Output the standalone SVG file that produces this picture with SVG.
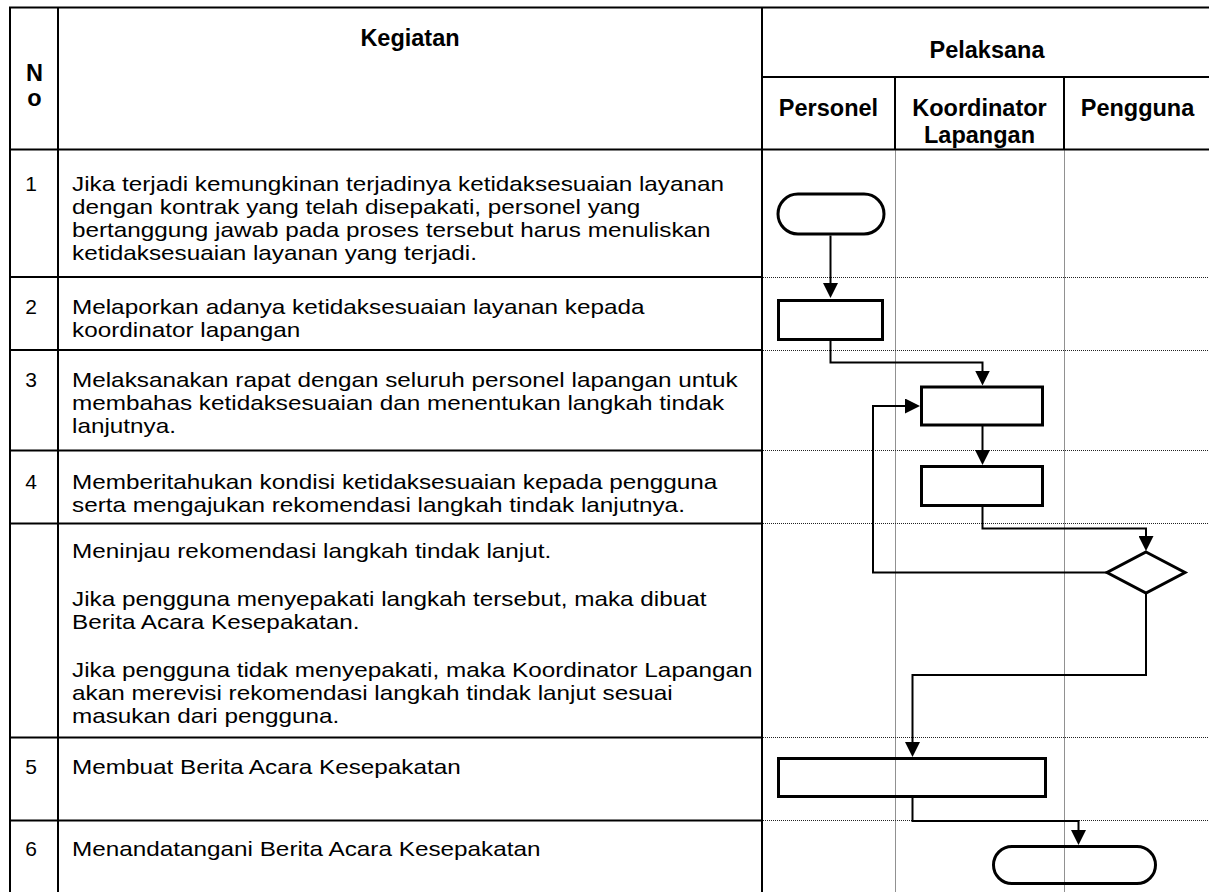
<svg xmlns="http://www.w3.org/2000/svg" width="1209" height="892" viewBox="0 0 1209 892">
<style>
.t{font-family:"Liberation Sans",Arial,sans-serif;font-size:20.5px;fill:#000}
.n{font-family:"Liberation Sans",Arial,sans-serif;font-size:21px;fill:#000;text-anchor:middle}
.h{font-family:"Liberation Sans",Arial,sans-serif;font-size:23.5px;font-weight:bold;fill:#000;text-anchor:middle}
.g{stroke:#000;stroke-width:2;fill:none}
.d{stroke:#222;stroke-width:1;stroke-dasharray:1 1;fill:none}
.s{stroke:#000;stroke-width:3;fill:none}
.c{stroke:#000;stroke-width:2;fill:none;marker-end:url(#ah)}
</style>
<defs>
<marker id="ah" markerUnits="userSpaceOnUse" markerWidth="15" markerHeight="15" viewBox="0 0 15 15" refX="5" refY="7.5" orient="auto">
<path d="M0,0 L15,7.5 L0,15 z" fill="#000"/>
</marker>
</defs>
<rect width="1209" height="892" fill="#fff"/>
<g id="grid">
<path class="g" d="M9,7.5 H1209 M10,6.5 V892 M58,7.5 V892 M762,7.5 V892 M762,77 H1209 M9,149.5 H1209 M895,77 V149.5 M1064,77 V149.5"/>
<path class="g" d="M10,277 H762 M10,350 H762 M10,450.5 H762 M10,523.5 H762 M10,737.5 H762 M10,820.5 H762"/>
<path class="d" d="M763,277.5 H1209 M763,350.5 H1209 M763,450.5 H1209 M763,523.5 H1209 M763,737.5 H1209 M763,820.5 H1209 M895.5,150.5 V892 M1064.5,150.5 V892"/>
</g>
<g id="header">
<text class="h" x="410" y="46">Kegiatan</text>
<text class="h" x="34.5" y="81">N</text>
<text class="h" x="34.5" y="106">o</text>
<text class="h" x="987" y="58">Pelaksana</text>
<text class="h" x="828.5" y="116">Personel</text>
<text class="h" x="979.5" y="116">Koordinator</text>
<text class="h" x="979.5" y="143">Lapangan</text>
<text class="h" x="1137.5" y="116">Pengguna</text>
</g>
<g id="numbers">
<text class="n" x="31" y="191">1</text>
<text class="n" x="31" y="314">2</text>
<text class="n" x="31" y="387">3</text>
<text class="n" x="31" y="489">4</text>
<text class="n" x="31" y="774">5</text>
<text class="n" x="31" y="856">6</text>
</g>
<g id="rows" transform="scale(1.185,1)">
<text class="t" x="60.76" y="191">Jika terjadi kemungkinan terjadinya ketidaksesuaian layanan</text>
<text class="t" x="60.76" y="214">dengan kontrak yang telah disepakati, personel yang</text>
<text class="t" x="60.76" y="237">bertanggung jawab pada proses tersebut harus menuliskan</text>
<text class="t" x="60.76" y="260">ketidaksesuaian layanan yang terjadi.</text>
<text class="t" x="60.76" y="314">Melaporkan adanya ketidaksesuaian layanan kepada</text>
<text class="t" x="60.76" y="337">koordinator lapangan</text>
<text class="t" x="60.76" y="387">Melaksanakan rapat dengan seluruh personel lapangan untuk</text>
<text class="t" x="60.76" y="410">membahas ketidaksesuaian dan menentukan langkah tindak</text>
<text class="t" x="60.76" y="433">lanjutnya.</text>
<text class="t" x="60.76" y="489">Memberitahukan kondisi ketidaksesuaian kepada pengguna</text>
<text class="t" x="60.76" y="512">serta mengajukan rekomendasi langkah tindak lanjutnya.</text>
<text class="t" x="60.76" y="558">Meninjau rekomendasi langkah tindak lanjut.</text>
<text class="t" x="60.76" y="606">Jika pengguna menyepakati langkah tersebut, maka dibuat</text>
<text class="t" x="60.76" y="629">Berita Acara Kesepakatan.</text>
<text class="t" x="60.76" y="677">Jika pengguna tidak menyepakati, maka Koordinator Lapangan</text>
<text class="t" x="60.76" y="700">akan merevisi rekomendasi langkah tindak lanjut sesuai</text>
<text class="t" x="60.76" y="723">masukan dari pengguna.</text>
<text class="t" x="60.76" y="774">Membuat Berita Acara Kesepakatan</text>
<text class="t" x="60.76" y="856">Menandatangani Berita Acara Kesepakatan</text>
</g>
<g id="connectors">
<path class="c" d="M830.5,235.5 V288"/>
<path class="c" d="M830.5,341 V362.5 H982.5 V375.5"/>
<path class="c" d="M982.5,426 V455"/>
<path class="c" d="M982.5,507 V528.5 H1146 V541"/>
<path class="c" d="M1107,572.5 H873 V406 H910"/>
<path class="c" d="M1146,593 V675 H912.5 V747"/>
<path class="c" d="M912.5,798 V821 H1078.5 V835"/>
</g>
<g id="node-start"><rect class="s" x="778" y="194" width="106" height="40" rx="20"/></g>
<g id="node-lapor"><rect class="s" x="778.5" y="300.5" width="104" height="39"/></g>
<g id="node-rapat"><rect class="s" x="921.5" y="387" width="121" height="38"/></g>
<g id="node-beritahu"><rect class="s" x="921.5" y="466.5" width="121" height="39"/></g>
<g id="node-tinjau"><polygon class="s" points="1146,552 1185,572.5 1146,593 1107,572.5"/></g>
<g id="node-buat"><rect class="s" x="778.5" y="758.5" width="267" height="38"/></g>
<g id="node-end"><rect class="s" x="993.5" y="846.5" width="162" height="37" rx="18.5"/></g>
</svg>
